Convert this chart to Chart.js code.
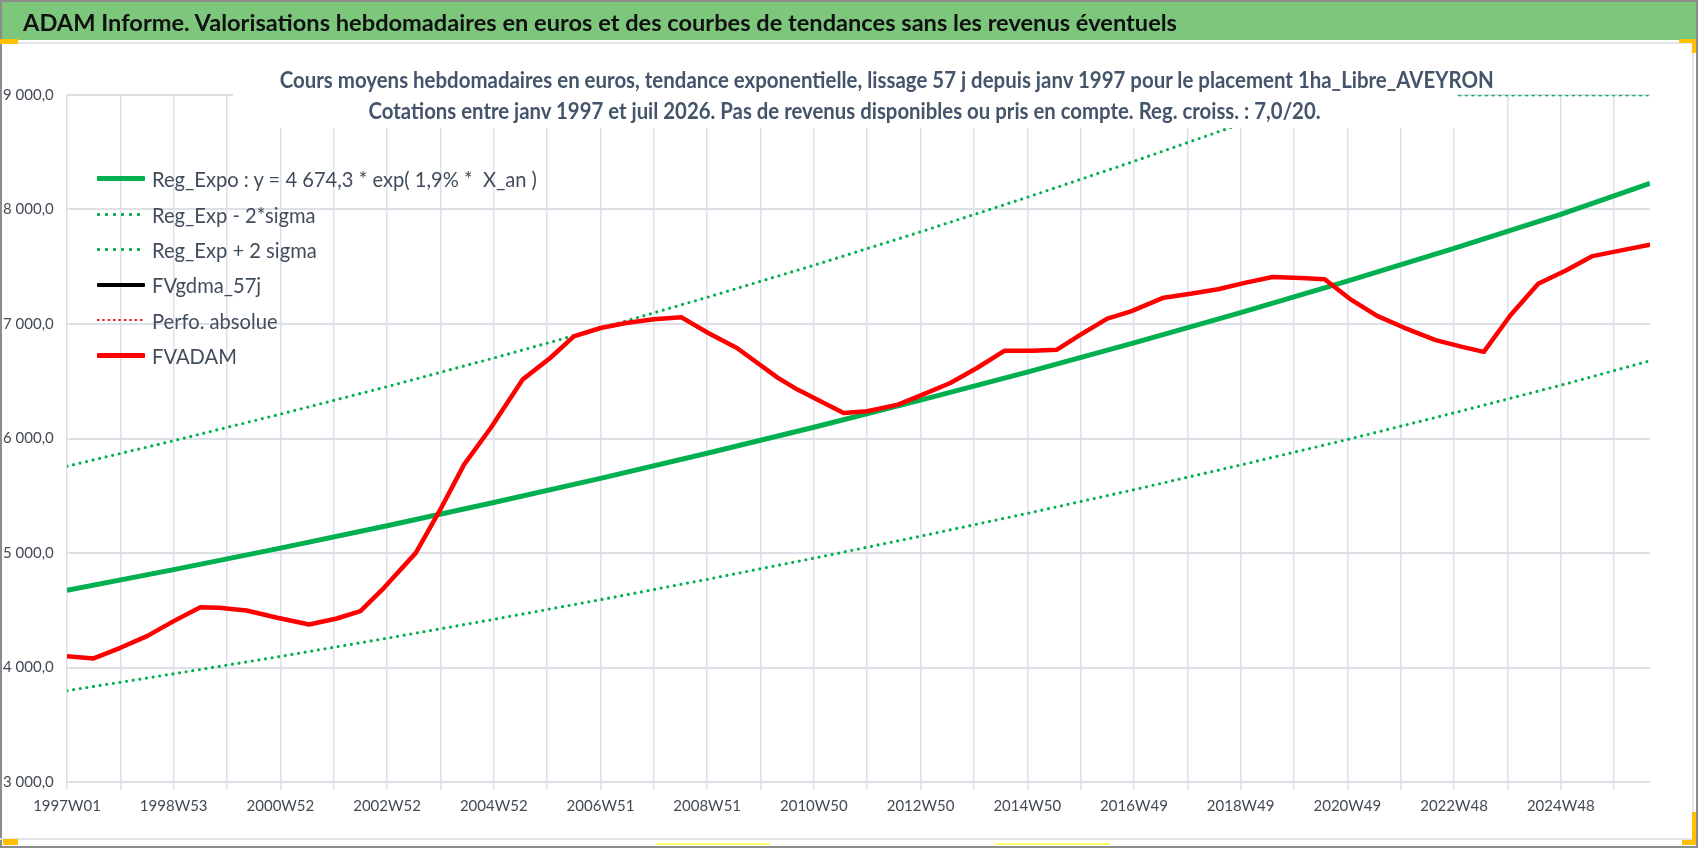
<!DOCTYPE html>
<html>
<head>
<meta charset="utf-8">
<script src="https://cdn.jsdelivr.net/npm/chart.js@4.4.1/dist/chart.umd.min.js"></script>
<style>
  body { margin: 0; width: 1698px; height: 848px; overflow: hidden; background: #fff; position: relative;
         font-family: Lato, "Open Sans", sans-serif; }
  canvas { position: absolute; left: 0; top: 0; }
  .abs { position: absolute; }
  #banner { left: 0; top: 0; width: 1698px; height: 40px; background: #7dc77d; border-top: 2px solid #8c8c8c; box-sizing: border-box; }
  #banner span { position: absolute; left: 23px; top: 0; line-height: 40px; font-size: 23px; font-weight: bold; color: #111;
                 white-space: nowrap; display: inline-block; transform-origin: left center; }
  #title { left: 233px; top: 64px; width: 1224px; height: 64px; background: #fff; text-align: center; color: #44546a; font-weight: bold; }
  #title div { line-height: 31px; height: 31px; white-space: nowrap; }
  #title span { font-size: 22px; display: inline-block; transform-origin: center center; }
  #legend { left: 97px; top: 161px; color: #424d5c; }
  .item { height: 35.4px; display: flex; align-items: center; white-space: pre; }
  .sw { width: 48px; margin-right: 7px; }
  .item span { font-size: 21px; display: inline-block; transform-origin: left center; }
</style>
</head>
<body>
<canvas id="c" width="1698" height="848"></canvas>

<div class="abs" id="title">
  <div><span id="t1">Cours moyens hebdomadaires en euros, tendance exponentielle, lissage 57 j depuis janv 1997 pour le placement 1ha_Libre_AVEYRON</span></div>
  <div><span id="t2">Cotations entre janv 1997 et juil 2026. Pas de revenus disponibles ou pris en compte. Reg. croiss. : 7,0/20.</span></div>
</div>
<div class="abs" id="legend"></div>

<div class="abs" id="banner"><span id="bt">ADAM Informe. Valorisations hebdomadaires en euros et des courbes de tendances sans les revenus éventuels</span></div>

<!-- cadre et poignées de sélection -->
<div class="abs" style="left:0;top:42px;width:1694px;height:2px;background:#e1e4e8"></div>
<div class="abs" style="left:0;top:0;width:2px;height:848px;background:#8c8c8c"></div>
<div class="abs" style="left:0;top:838px;width:1694px;height:2px;background:#e1e4e8"></div>
<div class="abs" style="left:0;top:846px;width:1698px;height:2px;background:#8c8c8c"></div>
<div class="abs" style="left:1692px;top:42px;width:2px;height:798px;background:#e1e4e8"></div>
<div class="abs" style="left:1696px;top:0;width:2px;height:848px;background:#8c8c8c"></div>
<div class="abs" style="left:0;top:39px;width:18px;height:5px;background:#ffc000"></div>
<div class="abs" style="left:1679px;top:39px;width:17px;height:4px;background:#ffc000"></div>
<div class="abs" style="left:1692px;top:39px;width:4px;height:14px;background:#ffc000"></div>
<div class="abs" style="left:3px;top:839px;width:15px;height:6px;background:#ffc000"></div>
<div class="abs" style="left:1692px;top:812px;width:4px;height:33px;background:#ffc000"></div>
<div class="abs" style="left:1682px;top:840px;width:14px;height:5px;background:#ffc000"></div>
<div class="abs" style="left:656px;top:843px;width:114px;height:2px;background:#ffff66"></div>
<div class="abs" style="left:996px;top:843px;width:114px;height:2px;background:#ffff66"></div>

<script>
// axe des semaines : index 0 = 1997W01, une étiquette toutes les 104 semaines
const weekLabels = ['1997W01', '1998W53', '2000W52', '2002W52', '2004W52', '2006W51', '2008W51',
  '2010W50', '2012W50', '2014W50', '2016W49', '2018W49', '2020W49', '2022W48', '2024W48'];
const lastWeek = 1543;

// FVADAM (et FVgdma_57j / Perfo. absolue, confondues avec elle)
const adamWeeks = [0, 26, 52, 78, 104, 130, 148, 175, 205, 236, 263, 286, 309, 340, 363, 387, 413, 444,
  471, 494, 520, 545, 572, 599, 625, 653, 693, 712, 757, 780, 810, 834, 861, 887, 914, 941, 965, 988,
  1014, 1037, 1069, 1095, 1122, 1149, 1175, 1203, 1226, 1250, 1277, 1303, 1334, 1360, 1381, 1407, 1434,
  1461, 1487, 1515, 1543];
const fvadam = [4099, 4079, 4172, 4274, 4405, 4527, 4521, 4498, 4434, 4376, 4428, 4492, 4696, 5001, 5365,
  5772, 6092, 6514, 6703, 6892, 6965, 7009, 7041, 7058, 6921, 6790, 6529, 6427, 6223, 6238, 6296, 6383,
  6485, 6616, 6767, 6767, 6776, 6907, 7047, 7110, 7230, 7265, 7303, 7361, 7410, 7402, 7390, 7222, 7071,
  6969, 6859, 6800, 6757, 7076, 7352, 7468, 7593, 7643, 7692];

// courbes de tendance lues tous les deux ans
const trendWeeks = [0, 104, 208, 312, 416, 520, 624, 728, 832, 936, 1040, 1144, 1248, 1352, 1456, 1543];
const regExpo = [4674, 4855, 5043, 5238, 5441, 5652, 5871, 6098, 6335, 6580, 6835, 7100, 7374, 7660, 7957, 8228];
const regMinus = [3798, 3945, 4097, 4256, 4421, 4592, 4770, 4955, 5147, 5346, 5553, 5769, 5991, 6224, 6465, 6679];
const plusWeeks = [0, 104, 208, 312, 416, 520, 624, 728, 832, 936, 1040, 1144, 1222, 1352, 1456, 1543];
const regPlus = [5758, 5981, 6213, 6453, 6703, 6963, 7233, 7513, 7805, 8107, 8421, 8747, 9000, 9000, 9000, 9000];

const pts = (xs, ys) => xs.map((x, i) => ({ x: x, y: ys[i] }));
const gridWeeks = [];
for (let w = 0; w < lastWeek; w += 52) gridWeeks.push(w);

function frNum(v) {
  return String(Math.round(v)).replace(/\B(?=(\d{3})+(?!\d))/g, ' ') + ',0';
}

const GREEN = '#00b050';
const FONT = "Lato, 'Open Sans', sans-serif";
const GRID = '#dde1e7';
const TICK = '#434a55';

const datasets = [
  { label: 'Reg_Expo : y = 4 674,3 * exp( 1,9% *  X_an )', data: pts(trendWeeks, regExpo),
    borderColor: GREEN, borderWidth: 5, order: 5, sw: { w: 4.5, dot: 0 } },
  { label: 'Reg_Exp - 2*sigma', data: pts(trendWeeks, regMinus), borderColor: GREEN, borderWidth: 3.2,
    borderDash: [0, 6.7], borderCapStyle: 'round', order: 4, sw: { w: 3, dot: 8 } },
  { label: 'Reg_Exp + 2 sigma', data: pts(plusWeeks, regPlus), borderColor: GREEN, borderWidth: 3.2,
    borderDash: [0, 6.7], borderCapStyle: 'round', order: 3, sw: { w: 3, dot: 8 } },
  { label: 'FVgdma_57j', data: pts(adamWeeks, fvadam), borderColor: '#000', borderWidth: 3,
    order: 2, sw: { w: 3.5, dot: 0 } },
  { label: 'Perfo. absolue', data: pts(adamWeeks, fvadam), borderColor: '#ff0000', borderWidth: 2,
    borderDash: [0, 4], borderCapStyle: 'round', order: 1, sw: { w: 2.2, dot: 5.4 } },
  { label: 'FVADAM', data: pts(adamWeeks, fvadam), borderColor: '#ff0000', borderWidth: 4.5,
    order: 0, sw: { w: 5, dot: 0 } }
];

const chart = new Chart(document.getElementById('c'), {
  type: 'line',
  data: { datasets: datasets },
  options: {
    responsive: false,
    animation: false,
    events: [],
    elements: { point: { radius: 0 }, line: { tension: 0, borderJoinStyle: 'round' } },
    layout: { padding: { left: 3, top: 95, right: 48, bottom: 26 } },
    plugins: { legend: { display: false }, title: { display: false }, tooltip: { enabled: false } },
    scales: {
      x: {
        type: 'linear', min: 0, max: lastWeek,
        afterBuildTicks: (s) => { s.ticks = gridWeeks.map(v => ({ value: v })); },
        afterFit: (s) => { s.height = 40; },
        border: { display: false },
        grid: { color: GRID, lineWidth: 1.5, tickLength: 8 },
        ticks: {
          autoSkip: false, maxRotation: 0, padding: 7, color: TICK,
          font: { family: FONT, size: 15 },
          callback: (v) => { const w = Math.round(v); return w % 104 === 0 ? weekLabels[w / 104] : ''; }
        }
      },
      y: {
        min: 3000, max: 9000,
        afterFit: (s) => { s.width = 64; },
        border: { display: false },
        grid: { color: GRID, lineWidth: 2, drawTicks: false },
        ticks: { stepSize: 1000, crossAlign: 'far', color: TICK, font: { family: FONT, size: 15 },
          callback: (v) => frNum(v) }
      }
    }
  }
});

// légende à l'intérieur du tracé, construite à partir des séries
const leg = document.getElementById('legend');
chart.data.datasets.forEach((ds) => {
  const it = document.createElement('div');
  it.className = 'item';
  const sw = document.createElement('div');
  sw.className = 'sw';
  const c = ds.borderColor;
  if (ds.sw.dot) {
    const r = ds.sw.w / 2;
    sw.style.height = ds.sw.w + 'px';
    sw.style.background = `radial-gradient(circle at ${r}px 50%, ${c} ${r - 0.2}px, transparent ${r + 0.4}px)`;
    sw.style.backgroundSize = ds.sw.dot + 'px 100%';
  } else {
    sw.style.height = ds.sw.w + 'px';
    sw.style.background = c;
    sw.style.borderRadius = '1px';
  }
  const tx = document.createElement('span');
  tx.textContent = ds.label;
  it.appendChild(sw);
  it.appendChild(tx);
  leg.appendChild(it);
});

// compression horizontale des textes sur la largeur mesurée dans l'original
function fitX(el, w) {
  const k = w / el.getBoundingClientRect().width;
  el.style.transform = 'scaleX(' + k + ')';
  return k;
}
fitX(document.getElementById('bt'), 1154);
fitX(document.getElementById('t1'), 1214);
fitX(document.getElementById('t2'), 952);
const spans = leg.querySelectorAll('span');
const k = fitX(spans[0], 385);
spans.forEach(s => { s.style.transform = 'scaleX(' + k + ')'; });
</script>
</body>
</html>
